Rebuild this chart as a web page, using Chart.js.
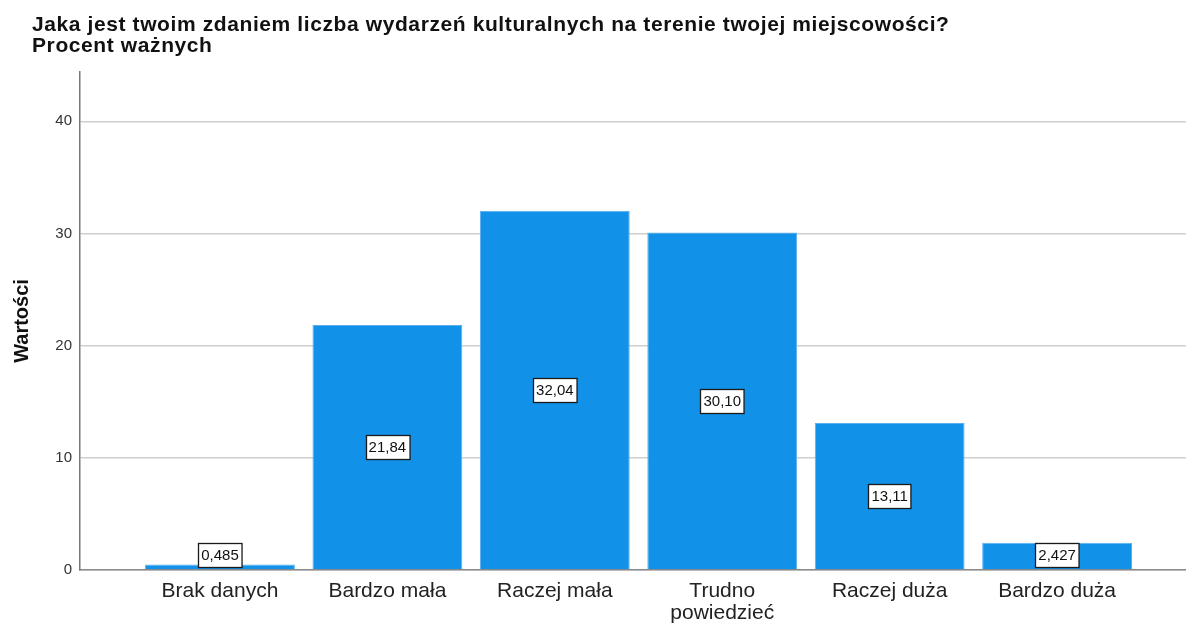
<!DOCTYPE html>
<html>
<head>
<meta charset="utf-8">
<script src="https://cdn.jsdelivr.net/npm/chart.js@4/dist/chart.umd.min.js"></script>
<style>
  html, body { margin: 0; padding: 0; background: #fff; }
  #wrap { width: 1186px; height: 625px; position: relative; }
</style>
</head>
<body>
<div id="wrap"><canvas id="myChart"></canvas></div>
<script>
// chart data
var titleLines = [
  "Jaka jest twoim zdaniem liczba wydarzeń kulturalnych na terenie twojej miejscowości?",
  "Procent ważnych"
];
var categories = ["Brak danych", "Bardzo mała", "Raczej mała", "Trudno\npowiedzieć", "Raczej duża", "Bardzo duża"];
var percentValues = [0.485, 21.84, 32.04, 30.10, 13.11, 2.427];
var yTicks = [0, 10, 20, 30, 40];

var FONT = "'Liberation Sans', Arial, sans-serif";

function formatValue(v) {
  var s = v < 10 ? v.toFixed(3) : v.toFixed(2);
  return s.replace('.', ',');
}

// title in the top left corner
var titlePlugin = {
  id: 'spssTitle',
  afterDraw: function (chart) {
    var ctx = chart.ctx;
    ctx.save();
    ctx.fillStyle = '#111';
    ctx.font = 'bold 21px ' + FONT;
    ctx.letterSpacing = '0.6px';
    ctx.textBaseline = 'alphabetic';
    ctx.textAlign = 'left';
    titleLines.forEach(function (line, i) {
      ctx.fillText(line, 32, 31 + i * 21);
    });
    ctx.restore();
  }
};

// boxed value labels in the middle of each bar
var valueLabels = {
  id: 'valueLabels',
  afterDatasetsDraw: function (chart) {
    var ctx = chart.ctx;
    var meta = chart.getDatasetMeta(0);
    ctx.save();
    ctx.font = '15px ' + FONT;
    ctx.textAlign = 'center';
    ctx.textBaseline = 'middle';
    meta.data.forEach(function (bar, i) {
      var txt = formatValue(percentValues[i]);
      var w = ctx.measureText(txt).width + 6;
      var h = 24;
      var cy = (bar.y + bar.base) / 2;
      if (cy + h / 2 > bar.base - 2) cy = bar.base - 2 - h / 2;
      var x0 = Math.round(bar.x - w / 2) + 0.5;
      var y0 = Math.round(cy - h / 2) + 0.5;
      ctx.fillStyle = '#fff';
      ctx.fillRect(x0, y0, w, h);
      ctx.strokeStyle = '#1a1a1a';
      ctx.lineWidth = 1.3;
      ctx.strokeRect(x0, y0, w, h);
      ctx.fillStyle = '#111';
      ctx.fillText(txt, bar.x, cy + 1);
    });
    ctx.restore();
  }
};

document.addEventListener("DOMContentLoaded", function () {
  var ctx = document.getElementById("myChart").getContext("2d");

  var points = categories.map(function (c, i) {
    return { x: i, y: percentValues[i] };
  });

  var myChart = new Chart(ctx, {
    type: 'bar',
    data: {
      datasets: [{
        label: "Procent ważnych",
        data: points,
        backgroundColor: '#1192e8',
        borderColor: '#5aaef0',
        borderWidth: { top: 1, left: 1, right: 1, bottom: 0 },
        categoryPercentage: 1,
        barPercentage: 0.895
      }]
    },
    options: {
      responsive: true,
      maintainAspectRatio: false,
      animation: false,
      layout: { padding: { top: 72, left: 0, right: 0, bottom: 0 } },
      plugins: {
        legend: { display: false },
        tooltip: { enabled: false }
      },
      scales: {
        x: {
          type: 'linear',
          offset: false,
          min: -0.836,
          max: 5.77,
          grid: { display: false, drawTicks: false, offset: false },
          border: { display: true, color: '#8a8a8a', width: 1.5 },
          afterBuildTicks: function (scale) {
            scale.ticks = categories.map(function (c, i) { return { value: i }; });
          },
          afterFit: function (scale) { scale.height = 55; },
          ticks: {
            autoSkip: false,
            maxRotation: 0,
            padding: 10,
            color: '#222',
            font: { family: FONT, size: 21, lineHeight: 1.05 },
            callback: function (v) {
              var lbl = categories[v];
              return lbl ? lbl.split('\n') : '';
            }
          }
        },
        y: {
          min: 0,
          max: 44.4,
          afterBuildTicks: function (scale) {
            scale.ticks = yTicks.map(function (v) { return { value: v }; });
          },
          afterFit: function (scale) { scale.width = 80; },
          grid: { color: '#cfcfcf', lineWidth: 1.5, drawTicks: false },
          border: { display: true, color: '#777', width: 1.5 },
          ticks: {
            padding: 8,
            color: '#333',
            font: { family: FONT, size: 15 }
          },
          title: {
            display: true,
            text: 'Wartości',
            color: '#111',
            padding: { top: 10, bottom: 0 },
            font: { family: FONT, size: 20, weight: 'bold' }
          }
        }
      }
    },
    plugins: [titlePlugin, valueLabels]
  });
});
</script>
</body>
</html>
